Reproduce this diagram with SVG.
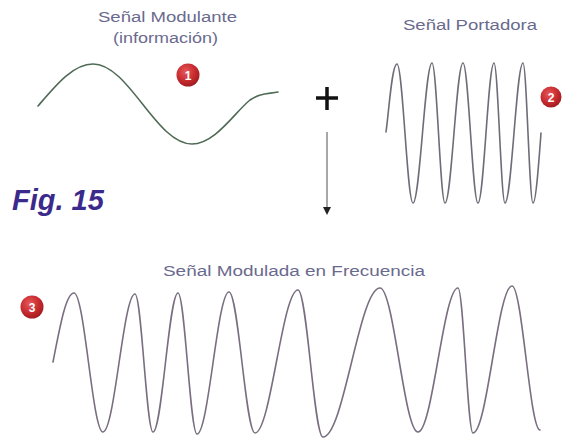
<svg xmlns="http://www.w3.org/2000/svg" width="570" height="442" viewBox="0 0 570 442">
  <defs>
    <radialGradient id="redball" cx="0.4" cy="0.35" r="0.7">
      <stop offset="0" stop-color="#e8585a"/>
      <stop offset="0.6" stop-color="#c62a2e"/>
      <stop offset="1" stop-color="#9c1a1d"/>
    </radialGradient>
  </defs>
  <style>
    .lbl { font-family: "Liberation Sans", Arial, sans-serif; font-size: 14px; fill: #6a6a8e; }
    .wave { fill: none; stroke-width: 1.6; stroke-linecap: round; stroke-linejoin: round; }
    .ball { fill: url(#redball); }
    .num { font-family: "Liberation Sans", Arial, sans-serif; font-size: 12px; font-weight: bold; fill: #ffffff; text-anchor: middle; }
    .fig { font-family: "Liberation Sans", Arial, sans-serif; font-size: 29px; font-weight: bold; font-style: italic; fill: #3b2a8c; }
  </style>
  <rect width="570" height="442" fill="#ffffff"/>

  <g id="modulante">
    <text class="lbl" x="98" y="22" textLength="139" lengthAdjust="spacingAndGlyphs">Señal Modulante</text>
    <text class="lbl" x="113" y="43" textLength="105" lengthAdjust="spacingAndGlyphs">(información)</text>
    <path class="wave" stroke="#4f6a55" d="M38,106 C56,85 73,64 93,64 C129,64 156,144 192,144 C215,144 235,112 250,100 C260,93 268,94 278,92"/>
    <circle class="ball" cx="188" cy="75" r="11.5"/>
    <text class="num" x="188" y="79.5">1</text>
  </g>

  <g id="portadora">
    <text class="lbl" x="403" y="30" textLength="134" lengthAdjust="spacingAndGlyphs">Señal Portadora</text>
    <path class="wave" stroke="#6d6d78" d="M386,132 C389,110 392,64 397,64 C402.81,64 407.19,203 413,203 C419.9,203 425.1,63 432,63 C436.72,63 440.28,203 445,203 C451.54,203 456.46,63 463,63 C468.45,63 472.55,203 478,203 C483.81,203 488.19,63 494,63 C498,63 501,203 505,203 C511.54,203 516.46,63 523,63 C526.63,63 529.37,203 533,203 C536,203 539,160 541,133"/>
    <circle class="ball" cx="551" cy="97" r="10.5"/>
    <text class="num" x="551" y="101.5">2</text>
  </g>

  <g id="connectors">
    <path d="M316,98 H338 M327,87 V110" stroke="#111111" stroke-width="3.5" fill="none"/>
    <line x1="327" y1="132" x2="327" y2="207" stroke="#8a8a8a" stroke-width="1.5"/>
    <polygon points="323,207 331,207 327,215" fill="#222222"/>
  </g>

  <g id="fig-label">
    <text class="fig" x="12" y="210">Fig. 15</text>
  </g>

  <g id="modulada">
    <text class="lbl" x="163" y="276" textLength="262" lengthAdjust="spacingAndGlyphs">Señal Modulada en Frecuencia</text>
    <path class="wave" stroke="#786e80" d="M53,362 C60,326 66,293 74,293 C84.54,293 92.46,432 103,432 C114.63,432 123.37,294 135,294 C141.54,294 146.46,432 153,432 C162.09,432 168.91,293 178,293 C184.9,293 190.1,434 197,434 C208.63,434 217.37,292 229,292 C238.45,292 245.55,433 255,433 C270.63,433 282.37,290 298,290 C307.09,290 313.91,437 323,437 C343.71,437 359.29,288 380,288 C393.81,288 404.19,432 418,432 C432.54,432 443.46,288 458,288 C463.45,288 467.55,433 473,433 C487.17,433 497.83,286 512,286 C522.2,286 529.8,430 540,430"/>
    <circle class="ball" cx="32" cy="307" r="11.5"/>
    <text class="num" x="32" y="311.5">3</text>
  </g>
</svg>
